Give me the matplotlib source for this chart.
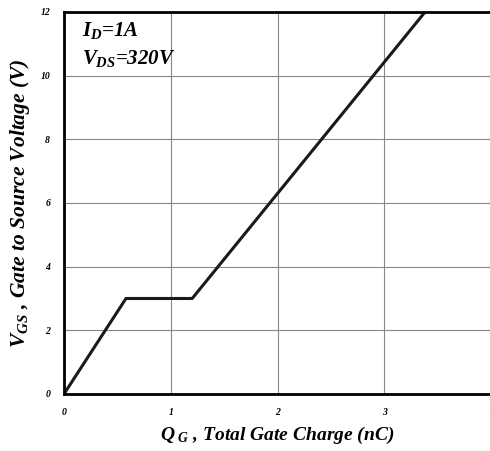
import matplotlib
matplotlib.use('Agg')
import matplotlib.pyplot as plt

# gate charge curve (nC, V)
qg = [0.0, 0.58, 1.2, 3.38]
vgs = [0.0, 3.0, 3.0, 12.0]
xticks = [0, 1, 2, 3, 4]
yticks = [0, 2, 4, 6, 8, 10, 12]

plt.rcParams['font.family'] = 'Liberation Serif'
plt.rcParams['mathtext.fontset'] = 'custom'
plt.rcParams['mathtext.rm'] = 'Liberation Serif:italic:bold'
plt.rcParams['mathtext.it'] = 'Liberation Serif:italic:bold'
plt.rcParams['mathtext.bf'] = 'Liberation Serif:italic:bold'

fig = plt.figure(figsize=(4.9, 4.51), dpi=100)
ax = fig.add_axes([0.1306, 0.1264, 0.872, 0.847])

ax.plot(qg, vgs, color='#1a1a1a', lw=2.2, solid_capstyle='butt')

ax.set_xlim(0, 4)
ax.set_ylim(0, 12)
ax.set_xticks(xticks)
ax.set_yticks(yticks)
ax.tick_params(length=0, labelsize=7, pad=10)
for lab in ax.get_xticklabels() + ax.get_yticklabels():
    lab.set_fontstyle('italic')
    lab.set_fontweight('bold')
ax.grid(True, color='#888888', lw=0.8)

for side in ['left', 'bottom', 'top']:
    ax.spines[side].set_linewidth(2.0)
ax.spines['right'].set_visible(False)

font = dict(style='italic', weight='bold')
ax.text(0.17, 11.43, r'$I_{D}$=1A', fontsize=15, va='center', **font)
ax.text(0.17, 10.55, r'$V_{DS}$=320V', fontsize=15, va='center', **font)

ax.set_xlabel(r'$Q_{\ G}$ , Total Gate Charge (nC)', fontsize=14, labelpad=6, **font)
ax.set_ylabel(r'$V_{GS}$ , Gate to Source Voltage (V)', fontsize=15.5, labelpad=6, **font)

fig.savefig('out.png', dpi=100)
